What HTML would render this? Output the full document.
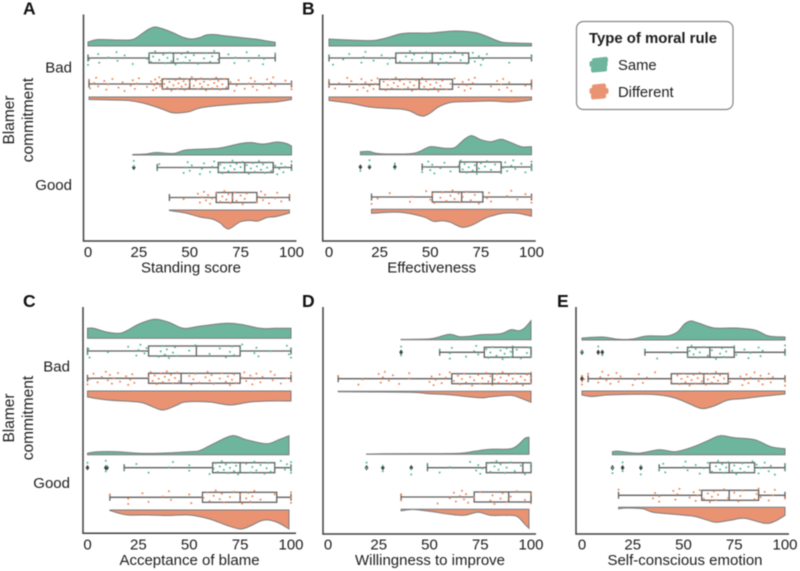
<!DOCTYPE html>
<html lang="en">
<head>
<meta charset="utf-8">
<title>Raincloud plots of moral rule judgments</title>
<style>
html,body{margin:0;padding:0;background:#fff;width:800px;height:571px;overflow:hidden}
svg{display:block;filter:blur(.5px)}
text{font-family:"Liberation Sans",sans-serif;fill:#1c1c1c;font-size:15px}
</style>
</head>
<body>
<svg id="chart" xmlns="http://www.w3.org/2000/svg" width="800" height="571" viewBox="0 0 800 571">
  <g>
    <rect x="576.5" y="21.5" width="156.5" height="88" rx="7" fill="#fff" stroke="#858585" stroke-width="1.2"/>
    <text x="589" y="43" style="font-size:14.9px;font-weight:700">Type of moral rule</text>
    <g fill="#6db59d">
      <rect x="592" y="57.500" width="16" height="5.500" rx="2" transform="rotate(-6 600 60)"/>
      <rect x="589.500" y="61" width="18" height="6" rx="2"/>
      <rect x="591" y="66" width="16" height="6" rx="2" transform="rotate(-5 599 69)"/>
    </g>
    <text x="618" y="70" style="font-size:14.8px">Same</text>
    <g fill="#ea9373">
      <rect x="592" y="84" width="14" height="5.500" rx="2" transform="rotate(-6 599 87)"/>
      <rect x="589.500" y="88" width="19" height="6" rx="2"/>
      <rect x="591" y="93" width="15" height="6" rx="2" transform="rotate(-5 598 96)"/>
    </g>
    <text x="618" y="97" style="font-size:14.8px">Different</text>
  </g>
</svg>
<script>
// ---- shared categories and ticks ----
const xTickLabels = [0, 25, 50, 75, 100];
const rowCategories = ["Bad", "Good"];
const ruleCategories = ["Same", "Different"];

// ---- density clouds: [score, density height] ----
const A_bad_same_cloud = [[0,4],[5,6.5],[15,6],[22,6.5],[27,13],[30,17],[33,19],[37,17],[42,13],[47,8.5],[51,7],[55,8.5],[58,11],[62,11.5],[68,10],[75,8.5],[83,6.7],[88,5],[92,3.7]];
const A_bad_diff_cloud = [[0.5,2.5],[12,3],[20,3.5],[27,6],[35,11],[40,15],[43,16],[47,15.5],[50,14.5],[55,11],[62,9],[68,8],[81,6],[92,5],[100,2.5]];
const A_good_same_cloud = [[22,0.5],[28.5,1],[33.6,2.5],[42,1.5],[48,5],[58,6],[65,7],[75,11.5],[80,12.5],[86,11],[93,13],[97.5,11.5],[100,9]];
const A_good_diff_cloud = [[40,0.5],[48,3],[55,7],[61,9],[65,13],[67,17],[69,19],[71,17],[75,11.7],[80,10.5],[83.5,11],[88,7.5],[92.5,6.5],[99,3]];

const B_bad_same_cloud = [[0,7],[10,6],[22,5.5],[30,9],[35,12],[40,13],[50,13],[62,15],[72,13.5],[78,9.5],[85,4],[92,3],[100,2.5]];
const B_bad_diff_cloud = [[0,3.5],[10,6],[20,10],[30,11.5],[35,12],[40,14],[44,18],[47,19],[50,16],[54,10],[60,5.5],[70,4.5],[80,4],[90,5],[100,3]];
const B_good_same_cloud = [[15.5,3],[20,3.2],[25,1],[40,1],[45,3.5],[50,8],[57,6.5],[62,7],[66,14],[68,17],[70,19],[72,18],[75,15],[80,13],[85,15.5],[90,12],[95,8],[100,8]];
const B_good_diff_cloud = [[21,4],[35,3],[46.6,7.5],[51.5,12],[56,11.5],[60,13],[63,16],[66,18],[69,17],[72,14.5],[76,10],[79,7.5],[86,4],[93,4],[100,7]];

const C_bad_same_cloud = [[0,10],[3,10],[10,6],[17,5.5],[25,14],[33,19],[40,16],[47,10],[55,12],[68,15],[75,14],[85,10],[92,10],[100,10]];
const C_bad_diff_cloud = [[0,6],[10,9],[25,11],[30,14],[37,19],[44,14],[48,11],[60,11],[70,14],[80,11],[90,10],[100,10]];
const C_good_same_cloud = [[0,1.5],[5,3],[15,3],[25,1.5],[35,1.5],[50,3],[55,4],[62,11],[71,19],[78,15],[88,11],[94,15],[99,19]];
const C_good_diff_cloud = [[11,0.5],[15,3],[20,5],[30,5],[40,5.5],[50,5],[60,9],[68,15],[75,19],[80,16],[85,11],[89,10],[94,13],[99,19]];

const D_bad_same_cloud = [[36,0.3],[50,0.8],[55,3],[60,5.5],[65,3],[70,3.5],[75,5],[85,6],[90,10],[94,9],[97,12],[100,19]];
const D_bad_diff_cloud = [[5,0.5],[40,1],[50,2.5],[60,3.5],[75,6.5],[80,5.5],[90,4],[95,7],[100,11]];
const D_good_same_cloud = [[19,0.3],[30,0.6],[50,0.7],[65,1],[72,3],[80,5],[90,5.5],[94,10],[97,16],[99,17]];
const D_good_diff_cloud = [[36,1.5],[42,0.2],[50,2],[60,5],[67,6],[74,3],[80,6],[87,6],[93,7],[97,15],[99,19]];

const E_bad_same_cloud = [[0,2],[10,3],[18,0.7],[25,1],[32,4],[42,4],[47,8],[50,15],[52,18],[54,19],[58,16.5],[65,12],[75,12],[85,10],[92,4],[100,3]];
const E_bad_diff_cloud = [[0,4],[5,5.5],[12,4],[20,3.5],[35,3.5],[45,6.5],[52,12],[59,17.5],[65,15],[72,9],[80,7.5],[90,5],[100,3]];
const E_good_same_cloud = [[15,3],[18,3.5],[28,1.5],[38,5],[46,3],[55,8],[62,14],[68,19],[75,17],[85,15],[93,8],[100,6]];
const E_good_diff_cloud = [[18,1.5],[22,0.7],[30,1.5],[35,5],[45,7],[55,9],[62,13],[66,15],[73,13],[80,11],[90,16],[95,14],[100,8]];

// ---- box statistics: [min, q1, median, q3, max] ----
const A_boxes = [[0,30,42,64.5,92],[0.5,36.5,50,69,100],[34,64,77,91,100],[40,63,71,83,99]];
const B_boxes = [[0,33,51,69,100],[0,25,44.5,61,100],[46,64.5,73,85,100],[21,51,65.5,76,100]];
const C_boxes = [[0,30,53.5,75,100],[0,30,46,75,100],[18,61.5,75,92,100],[11,56.5,75,93,100]];
const D_boxes = [[55,77,91,100,100],[5,61,81,100,100],[49,78,96,100,100],[36,72,89,100,100]];
const E_boxes = [[31,52,63,75,100],[3,44,60,72,100],[38,63,72.5,85,100],[18,59,72.5,87,100]];

// ---- outliers ----
const A_outliers = [[],[],[22.5],[]];
const B_outliers = [[],[],[15.5,20,32.5],[]];
const C_outliers = [[],[],[0,9,9.6],[]];
const D_outliers = [[36],[],[19,27,41],[]];
const E_outliers = [[0,8,10],[0,0],[15,20,29],[]];

// ---- individual responses ----
const A_bad_same_points = [0,0.5,5,5.5,10,14,14.5,18,22,29,30,31,32,33,35,37,38,39,40,41,42,43,44,46,47,48,49,50,52,54,57,58,60,61,62,64,69,72,72.5,78,79,84,86,86.5,92];
const A_bad_diff_points = [0.5,1,3,4,5,8,9,10,12,15,17,18,21,22,23,24,25,29,31,32,32.5,33,33.5,34,35,35.5,36,37,37.5,38,39,40,41,42,43,44,44.5,45,46,47,47.5,48,49,49.5,50,51,52,53,54,55,55.5,56,57,58,59,60,61,62,63,63.5,64,65,66,67,68,70,72,73,74,77,79,80,81,82,83,86,88,89,90,91,92,97,100,100];
const A_good_same_points = [22.5,22.5,34,35,47,48,49,50,51,55,56,57,60,61,62,64,65,66,67,68,69,70,71,72,73,74,75,76,77,78,79,80,81,82,83,84,85,86,87,88,89,90,92,93,94,95,96,97,100,100];
const A_good_diff_points = [47,54,55,56,57,58,59,60,61,63,65,66,67,68,69,70,71,72,73,75,76,77,78,83,84,85,86,87,89,92,93,95,99];

const B_bad_same_points = [0,2,7,10,16,17,18,22,26,29,30,34,35,38,40,41,42,43,46,48,50,51,54,55,56,58,60,62,65,66,68,70,71,72,74,75,76,78,89,100];
const B_bad_diff_points = [0,0,3,5,9,10,11,14,15,16,17,18,19,20,21,22,23,24,25,27,28,29,30,31,32,33,34,35,36,37,38,39,40,41,42,43,44,45,46,47,48,49,50,51,52,53,54,55,56,58,60,62,64,66,67,68,69,70,71,72,80,83,84,85,86,88,89,90,97,100,100];
const B_good_same_points = [15.5,20,20,32.5,32.5,46,47,49,50,51,52,55,57,60,64,65,66,67,68,69,70,71,72,73,74,75,76,77,78,80,82,85,86,87,88,90,91,92,95,97,100,100,100];
const B_good_diff_points = [21,24,30,40,41,48,50,51,52,55,56,58,60,61,62,64,65,66,68,70,72,74,78,79,80,88,90,93,97,100,100];

const C_bad_same_points = [0,0.5,1,10,20,24,25,26,28,29,35,36,37,38,39,40,42,43,44,50,53,60,65,68,70,71,72,75,76,82,83,84,90,98,99,100,100];
const C_bad_diff_points = [0,1,3,5,7,9,10,11,12,13,15,16,19,20,21,22,23,30,31,32,33,34,35,36,37,38,39,40,41,42,43,44,45,50,51,52,53,55,58,59,60,61,62,65,66,68,69,70,71,72,73,76,77,78,80,81,82,83,85,86,90,91,92,95,98,100,100];
const C_good_same_points = [0,9,9.5,9,18,24,30,40,42,50,50,60,62,63,64,65,66,67,68,69,70,71,72,73,74,75,78,80,81,82,83,85,87,88,89,90,92,95,97,98,100,100,100];
const C_good_diff_points = [11,20,20,27,30,37,40,41,50,51,57,59,60,62,63,65,66,67,70,72,75,75,76,78,79,80,81,82,85,92,100,100,100];

const D_bad_same_points = [36,36,55,60,60,61,68,72,73,74,78,79,80,81,83,85,86,87,88,90,90,91,91,93,95,98,99,100];
const D_bad_diff_points = [5,15,17,25,26,27,28,30,32,35,40,40,50,51,52,53,55,56,58,60,62,64,65,66,67,68,70,71,72,74,75,76,78,79,80,81,82,83,84,85,86,88,89,90,91,92,93,95,96,97,98,100,100,100];
const D_good_same_points = [19,19,27,27,41,41,49,55,60,70,73,74,75,76,79,80,82,83,84,85,87,88,90,92,95,97,100,100];
const D_good_diff_points = [36,36,54,60,62,63,65,66,67,68,69,72,75,80,81,82,85,86,88,90,93,97,100,100];

const E_bad_same_points = [0,8,10,31,37,44,47,52,53,54,55,56,57,58,60,62,64,66,68,69,70,71,75,76,80,82,83,87,88,89,100,100];
const E_bad_diff_points = [0,0,0,1,3,8,9,10,12,13,14,15,17,18,19,25,26,28,30,32,36,44,47,48,49,50,51,52,53,54,55,56,57,58,59,60,61,62,63,64,65,66,67,68,69,70,72,73,78,79,80,81,82,83,85,87,88,89,90,92,93,94,100,100];
const E_good_same_points = [15,15,20,20,29,29,38,40,41,50,51,52,56,58,60,62,64,66,67,68,69,70,71,72,74,75,76,78,79,80,82,84,85,86,87,88,90,92,93,95,100,100];
const E_good_diff_points = [18,35,36,38,38,45,46,47,48,53,55,56,57,58,60,62,63,64,65,66,67,70,72,75,77,78,79,85,86,87,88,90,92,94,95,100];

// ---- axis titles ----
const axisTitles = ["Standing score", "Effectiveness", "Acceptance of blame", "Willingness to improve", "Self-conscious emotion"];
const panelLetters = ["A", "B", "C", "D", "E"];

// ---- build ----
const NS = "http://www.w3.org/2000/svg";
const svg = document.getElementById("chart");
const COLORS = {
  cloud: ["#6db59d", "#ea9373"],
  dot: ["#4fb797", "#ee8455"],
  edge: "#7b7b7b", box: "#5f5f5f", axis: "#404040", flier: "#404040"
};

function make(tag, parent, props) {
  const el = document.createElementNS(NS, tag);
  for (const k in props) el.setAttribute(k, props[k]);
  parent.appendChild(el);
  return el;
}

function smoothPath(pts) {
  let d = "";
  for (let i = 0; i < pts.length - 1; i++) {
    const p0 = pts[Math.max(i - 1, 0)], p1 = pts[i], p2 = pts[i + 1], p3 = pts[Math.min(i + 2, pts.length - 1)];
    const c1x = p1[0] + (p2[0] - p0[0]) / 6, c1y = p1[1] + (p2[1] - p0[1]) / 6;
    const c2x = p2[0] - (p3[0] - p1[0]) / 6, c2y = p2[1] - (p3[1] - p1[1]) / 6;
    d += " C" + c1x.toFixed(2) + " " + c1y.toFixed(2) + " " + c2x.toFixed(2) + " " + c2y.toFixed(2) + " " + p2[0].toFixed(2) + " " + p2[1].toFixed(2);
  }
  return d;
}

const panelData = [
  { clouds: [A_bad_same_cloud, A_bad_diff_cloud, A_good_same_cloud, A_good_diff_cloud], boxes: A_boxes, outliers: A_outliers, points: [A_bad_same_points, A_bad_diff_points, A_good_same_points, A_good_diff_points] },
  { clouds: [B_bad_same_cloud, B_bad_diff_cloud, B_good_same_cloud, B_good_diff_cloud], boxes: B_boxes, outliers: B_outliers, points: [B_bad_same_points, B_bad_diff_points, B_good_same_points, B_good_diff_points] },
  { clouds: [C_bad_same_cloud, C_bad_diff_cloud, C_good_same_cloud, C_good_diff_cloud], boxes: C_boxes, outliers: C_outliers, points: [C_bad_same_points, C_bad_diff_points, C_good_same_points, C_good_diff_points] },
  { clouds: [D_bad_same_cloud, D_bad_diff_cloud, D_good_same_cloud, D_good_diff_cloud], boxes: D_boxes, outliers: D_outliers, points: [D_bad_same_points, D_bad_diff_points, D_good_same_points, D_good_diff_points] },
  { clouds: [E_bad_same_cloud, E_bad_diff_cloud, E_good_same_cloud, E_good_diff_cloud], boxes: E_boxes, outliers: E_outliers, points: [E_bad_same_points, E_bad_diff_points, E_good_same_points, E_good_diff_points] }
];

// Panel frames: plot geometry only.
const frames = [
  { x0: 88, x100: 291.5, axisX: 83.5, axisEnd: 296.5, top: 14.5, bottom: 241, tickY: 257, titleY: 272.5, titleX: 191, letterX: 23, letterY: 14.5,
    base: [46, 97, 155, 210], mid: [58, 84, 167.5, 197.5], rowLabelX: 72, rowLabelY: [72.7, 190], yTitle: { y: 120 } },
  { x0: 329, x100: 531.5, axisX: 322.7, axisEnd: 535.7, top: 14.5, bottom: 241, tickY: 257, titleY: 272.5, titleX: 431.7, letterX: 302, letterY: 14.5,
    base: [46, 97, 154.7, 209.3], mid: [58, 84.3, 167, 197] },
  { x0: 87.5, x100: 291, axisX: 83, axisEnd: 296, top: 307, bottom: 533.3, tickY: 549.5, titleY: 565, titleX: 189.5, letterX: 23, letterY: 307,
    base: [338.3, 391, 454.7, 510], mid: [351, 378.3, 467.7, 497.3], rowLabelX: 70, rowLabelY: [371.7, 488], yTitle: { y: 418 } },
  { x0: 328, x100: 531, axisX: 323, axisEnd: 536, top: 307, bottom: 534, tickY: 549.5, titleY: 565, titleX: 430, letterX: 302, letterY: 307,
    base: [339.7, 391.3, 454.3, 509.3], mid: [352.3, 378.7, 467.7, 497] },
  { x0: 582, x100: 785, axisX: 576, axisEnd: 789, top: 307, bottom: 534, tickY: 549.5, titleY: 565, titleX: 685, letterX: 557, letterY: 307,
    base: [340, 391, 454.7, 507.3], mid: [352.3, 378.7, 467.7, 495.3] }
];

panelData.forEach(function (data, p) {
  const f = frames[p];
  const letter = panelLetters[p];
  const xScale = function (v) { return f.x0 + (f.x100 - f.x0) * v / 100; };
  const densityScale = function (d) { return d * 1; };

  const g = make("g", svg, {});
  
  

  const lbl = make("text", g, { x: f.letterX, y: f.letterY, style: "font-size:17.5px;font-weight:700;fill:#111" });
  lbl.textContent = letter;
  
  

  data.clouds.forEach(function (cloud, s) {
    const type = s % 2;
    const row = s < 2 ? 0 : 1;
    const dir = type === 0 ? -1 : 1;
    const base = f.base[s], mid = f.mid[s];
    const seriesName = rowCategories[row].toLowerCase() + '-' + ruleCategories[type].toLowerCase();

    // cloud
    const pts = cloud.map(function (c) { return [xScale(c[0]), base + dir * densityScale(c[1])]; });
    const startX = pts[0][0], endX = pts[pts.length - 1][0];
    const d = "M" + startX.toFixed(2) + " " + base + " L" + pts[0][0].toFixed(2) + " " + pts[0][1].toFixed(2) + smoothPath(pts) + " L" + endX.toFixed(2) + " " + base + " Z";
    const area = make("path", g, { d: d, fill: COLORS.cloud[type], stroke: COLORS.edge, "stroke-width": 1 });
    
    

    // whiskers and box
    const b = data.boxes[s];
    const hb = 5, cap = 3.5;
    const whisk = make("path", g, {
      d: "M" + xScale(b[0]) + " " + mid + " H" + xScale(b[1]) + " M" + xScale(b[3]) + " " + mid + " H" + xScale(b[4]) +
         " M" + xScale(b[0]) + " " + (mid - cap) + " V" + (mid + cap) + " M" + xScale(b[4]) + " " + (mid - cap) + " V" + (mid + cap),
      fill: "none", stroke: COLORS.box, "stroke-width": 1.3
    });
    
    

    const rect = make("rect", g, { x: xScale(b[1]), y: mid - hb, width: xScale(b[3]) - xScale(b[1]), height: hb * 2, fill: "#fff", stroke: COLORS.box, "stroke-width": 1.3 });
    
    

    const med = make("line", g, { x1: xScale(b[2]), x2: xScale(b[2]), y1: mid - hb, y2: mid + hb, stroke: COLORS.box, "stroke-width": 1.3 });
    
    

    // outlier diamonds
    data.outliers[s].forEach(function (v) {
      const x = xScale(v);
      const o = make("path", g, { d: "M" + x + " " + (mid - 2.8) + " L" + (x + 1.9) + " " + mid + " L" + x + " " + (mid + 2.8) + " L" + (x - 1.9) + " " + mid + " Z", fill: COLORS.flier });
      
      
    });

    // jittered responses; vertical jitter is a fixed layout offset, not data
    data.points[s].forEach(function (v, i) {
      const jit = (((i + 1) * 0.618034 + (p + 1) * 0.37 + s * 0.21) % 1 - 0.5) * 14;
      const dot = make("circle", g, { cx: xScale(v), cy: mid + jit, r: 1, fill: COLORS.dot[type] });
      
      
    });
  });

  // axes
  const yAxis = make("line", g, { x1: f.axisX, x2: f.axisX, y1: f.top, y2: f.bottom + 0.7, stroke: COLORS.axis, "stroke-width": 1.5 });
  
  

  const xAxis = make("line", g, { x1: f.axisX, x2: f.axisEnd, y1: f.bottom, y2: f.bottom, stroke: COLORS.axis, "stroke-width": 1.5 });
  
  

  xTickLabels.forEach(function (t) {
    const tick = make("text", g, { x: xScale(t), y: f.tickY, "text-anchor": "middle" });
    tick.textContent = t;
    
    
  });

  const title = make("text", g, { x: f.titleX, y: f.titleY, "text-anchor": "middle" });
  title.textContent = axisTitles[p];
  
  

  if (f.rowLabelY) {
    rowCategories.forEach(function (r, i) {
      const rl = make("text", g, { x: f.rowLabelX, y: f.rowLabelY[i], "text-anchor": "end" });
      rl.textContent = r;
      
      
    });
    const yt1 = make("text", g, { transform: "translate(14 " + f.yTitle.y + ") rotate(-90)", "text-anchor": "middle", style: "font-size:15.5px" });
    yt1.textContent = "Blamer";
    
    
    const yt2 = make("text", g, { transform: "translate(33 " + f.yTitle.y + ") rotate(-90)", "text-anchor": "middle", style: "font-size:15.5px" });
    yt2.textContent = "commitment";
    
    
  }
});
</script>
</body>
</html>
